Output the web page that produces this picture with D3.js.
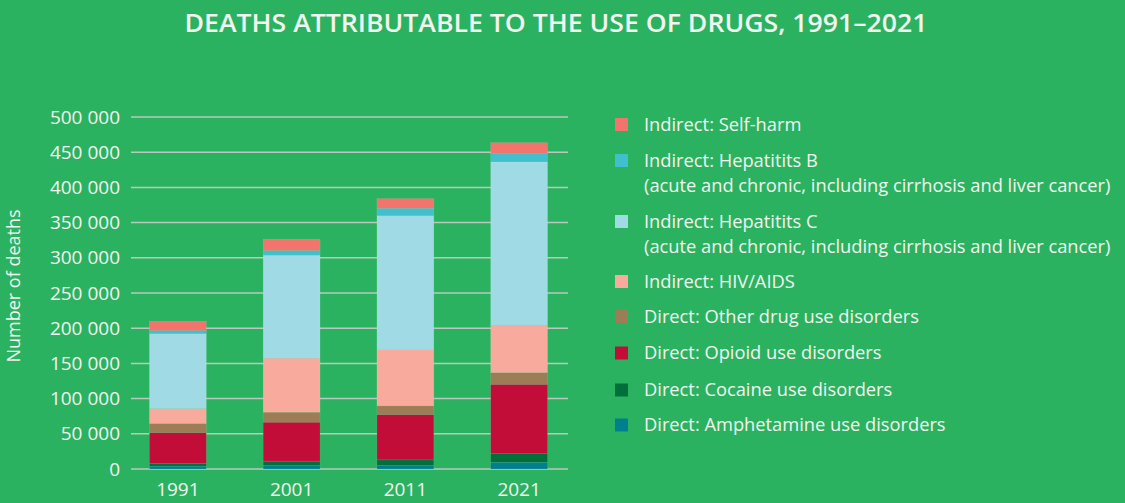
<!DOCTYPE html>
<html>
<head>
<meta charset="utf-8">
<script src="https://cdn.jsdelivr.net/npm/d3@7"></script>
<style>
  body { margin: 0; background: #2bb261; }
  text { font-family: "Open Sans", "Noto Sans", sans-serif; fill: #f2f4ef; }
</style>
</head>
<body>
<div id="container"></div>
<script>
/* DATA */
const years = ["1991", "2001", "2011", "2021"];
const amphetamine = [4000, 5000, 5000, 9500];
const cocaine = [3800, 6100, 8000, 12300];
const opioid = [44000, 55400, 64400, 98500];
const otherDrugs = [12800, 14200, 12300, 16600];
const hivAids = [21300, 76700, 79500, 67200];
const hepC = [106500, 146300, 190800, 232000];
const hepB = [4300, 6700, 10400, 12300];
const selfHarm = [13200, 16000, 13700, 15200];
const yTicks = [0, 50000, 100000, 150000, 200000, 250000, 300000, 350000, 400000, 450000, 500000];

// stacking order bottom -> top
const series = [
  { key: "amph", name: ["Direct: Amphetamine use disorders"], values: amphetamine, color: "#00808f" },
  { key: "coc", name: ["Direct: Cocaine use disorders"], values: cocaine, color: "#006f3a" },
  { key: "opi", name: ["Direct: Opioid use disorders"], values: opioid, color: "#c30d39" },
  { key: "oth", name: ["Direct: Other drug use disorders"], values: otherDrugs, color: "#9c7d56" },
  { key: "hiv", name: ["Indirect: HIV/AIDS"], values: hivAids, color: "#f8aa9d" },
  { key: "hepc", name: ["Indirect: Hepatitits C", "(acute and chronic, including cirrhosis and liver cancer)"], values: hepC, color: "#a0dae5" },
  { key: "hepb", name: ["Indirect: Hepatitits B", "(acute and chronic, including cirrhosis and liver cancer)"], values: hepB, color: "#40c0cc" },
  { key: "self", name: ["Indirect: Self-harm"], values: selfHarm, color: "#f3736d" }
];

/* CONSTANTS */
const width = 1125, height = 503;

const svg = d3.select("#container")
  .append("svg")
  .attr("width", width)
  .attr("height", height);

// table for d3.stack
const table = years.map((yr, i) => {
  const row = { year: yr };
  series.forEach(s => row[s.key] = s.values[i]);
  return row;
});
const stacked = d3.stack().keys(series.map(s => s.key))(table);

// SCALES
const x = d3.scaleBand()
  .domain(years)
  .range([121, 576])
  .paddingInner(0.5)
  .paddingOuter(0.25);

const y = d3.scaleLinear()
  .domain([0, 500000])
  .range([469, 117]);

// gridlines
svg.append("g")
  .selectAll("line")
  .data(yTicks)
  .join("line")
  .attr("x1", 131)
  .attr("x2", 568)
  .attr("y1", d => y(d))
  .attr("y2", d => y(d))
  .attr("stroke", "#b9c9bd")
  .attr("stroke-width", 1.5);

// y tick labels
svg.append("g")
  .selectAll("text")
  .data(yTicks)
  .join("text")
  .attr("x", 120)
  .attr("y", d => y(d))
  .attr("dy", "0.35em")
  .attr("text-anchor", "end")
  .style("font-size", "19px")
  .text(d => d3.format(",")(d).replace(/,/g, " "));

// y axis title
svg.append("text")
  .attr("transform", "translate(20,286) rotate(-90)")
  .attr("text-anchor", "middle")
  .style("font-size", "18px")
  .text("Number of deaths");

// bars
svg.append("g")
  .selectAll("g")
  .data(stacked)
  .join("g")
  .attr("fill", (d, i) => series[i].color)
  .selectAll("rect")
  .data(d => d)
  .join("rect")
  .attr("x", d => x(d.data.year))
  .attr("width", x.bandwidth())
  .attr("y", d => y(d[1]))
  .attr("height", d => y(d[0]) - y(d[1]))
  .attr("stroke", "rgba(255,255,255,0.15)")
  .attr("stroke-width", 0.6);

// x labels
svg.append("g")
  .selectAll("text")
  .data(years)
  .join("text")
  .attr("x", d => x(d) + x.bandwidth() / 2)
  .attr("y", 496)
  .attr("text-anchor", "middle")
  .style("font-size", "19px")
  .text(d => d);

// title
svg.append("text")
  .attr("x", 556)
  .attr("y", 32)
  .attr("text-anchor", "middle")
  .style("font-size", "26px")
  .style("font-weight", "600")
  .attr("textLength", 743)
  .attr("lengthAdjust", "spacingAndGlyphs")
  .text("DEATHS ATTRIBUTABLE TO THE USE OF DRUGS, 1991–2021");

// legend (top to bottom)
const legendRows = [
  { s: series[7], y: 124.5 },
  { s: series[6], y: 160.5 },
  { s: series[5], y: 221.5 },
  { s: series[4], y: 281.5 },
  { s: series[3], y: 316.5 },
  { s: series[2], y: 353 },
  { s: series[1], y: 390 },
  { s: series[0], y: 425 }
];

const legend = svg.append("g")
  .selectAll("g")
  .data(legendRows)
  .join("g")
  .attr("transform", d => `translate(615,${d.y})`);

legend.append("rect")
  .attr("x", 0)
  .attr("y", -6.5)
  .attr("width", 13)
  .attr("height", 13)
  .attr("fill", d => d.s.color);

legend.append("text")
  .attr("x", 29)
  .attr("y", 0)
  .style("font-size", "18.3px")
  .selectAll("tspan")
  .data(d => d.s.name)
  .join("tspan")
  .attr("x", 29)
  .attr("dy", (d, i) => i === 0 ? "0.35em" : "24.8")
  .text(d => d);
</script>
</body>
</html>
